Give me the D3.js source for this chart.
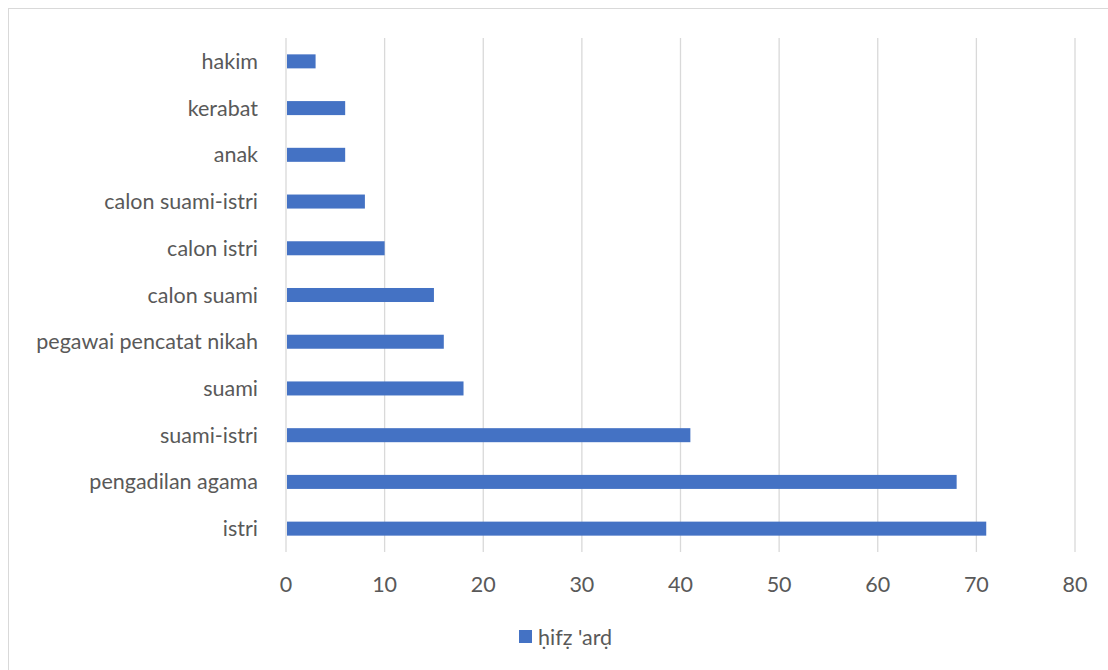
<!DOCTYPE html>
<html>
<head>
<meta charset="utf-8">
<script src="https://cdn.jsdelivr.net/npm/d3@7"></script>
<style>
    body { margin: 0; background: #fff; }
    text { font-family: Lato, "Open Sans", sans-serif; fill: #595959; }
</style>
</head>
<body>
<script>
    // Chart data (top to bottom)
    var categories = ["hakim", "kerabat", "anak", "calon suami-istri", "calon istri", "calon suami",
        "pegawai pencatat nikah", "suami", "suami-istri", "pengadilan agama", "istri"];
    var values = [3, 6, 6, 8, 10, 15, 16, 18, 41, 68, 71];
    var xTicks = [0, 10, 20, 30, 40, 50, 60, 70, 80];
    var seriesName = "ḥifẓ 'arḍ";

    var width = 1108, height = 670;
    var barColor = "#4472c4";
    var fontSize = "21.5px";

    var svg = d3.select("body").append("svg")
        .attr("width", width)
        .attr("height", height);

    // Chart frame
    svg.append("rect")
        .attr("x", 8.5)
        .attr("y", 8.5)
        .attr("width", 1120)
        .attr("height", 700)
        .attr("fill", "none")
        .attr("stroke", "#d9d9d9");

    var x = d3.scaleLinear().domain([0, 80]).range([286, 1075]);
    var y = d3.scaleBand().domain(categories).range([38, 552]).paddingInner(0.7).paddingOuter(0.35);

    // Vertical gridlines
    svg.selectAll(".grid")
        .data(xTicks)
        .enter()
        .append("line")
        .attr("class", "grid")
        .attr("x1", function (d) { return x(d); })
        .attr("x2", function (d) { return x(d); })
        .attr("y1", 38)
        .attr("y2", 552)
        .attr("stroke", "#d9d9d9")
        .attr("stroke-width", 1.3);

    // Bars
    svg.selectAll(".bar")
        .data(values)
        .enter()
        .append("rect")
        .attr("class", "bar")
        .attr("x", x(0) + 1)
        .attr("y", function (d, i) { return y(categories[i]); })
        .attr("width", function (d) { return x(d) - x(0) - 1; })
        .attr("height", y.bandwidth())
        .attr("fill", barColor);

    // Category labels
    svg.selectAll(".cat")
        .data(categories)
        .enter()
        .append("text")
        .attr("class", "cat")
        .attr("x", 258)
        .attr("y", function (d) { return y(d) + y.bandwidth() / 2; })
        .attr("dy", "0.35em")
        .attr("text-anchor", "end")
        .style("font-size", fontSize)
        .text(function (d) { return d; });

    // X tick labels
    svg.selectAll(".tick-label")
        .data(xTicks)
        .enter()
        .append("text")
        .attr("class", "tick-label")
        .attr("x", function (d) { return x(d); })
        .attr("y", 584)
        .attr("dy", "0.35em")
        .attr("text-anchor", "middle")
        .style("font-size", fontSize)
        .text(function (d) { return d; });

    // Legend
    svg.append("rect")
        .attr("x", 519)
        .attr("y", 630)
        .attr("width", 13)
        .attr("height", 13)
        .attr("fill", barColor);

    svg.append("text")
        .attr("x", 538)
        .attr("y", 637)
        .attr("dy", "0.35em")
        .style("font-size", fontSize)
        .text(seriesName);
</script>
</body>
</html>
